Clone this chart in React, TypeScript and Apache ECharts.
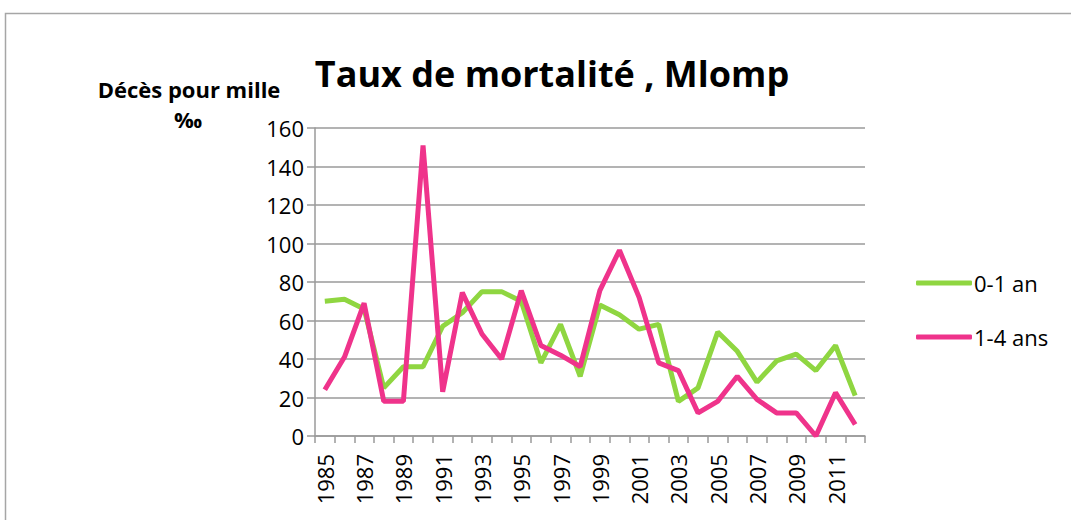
import React, { useEffect, useRef } from "react";
import * as echarts from "echarts";

const years: string[] = [
  "1985", "1986", "1987", "1988", "1989", "1990", "1991", "1992", "1993", "1994",
  "1995", "1996", "1997", "1998", "1999", "2000", "2001", "2002", "2003", "2004",
  "2005", "2006", "2007", "2008", "2009", "2010", "2011", "2012",
];
const infant: number[] = [
  70, 71, 66, 25, 36, 36, 57, 64, 75, 75,
  70, 38, 58, 31, 68, 63, 55.5, 58, 18, 25,
  54, 44, 28, 39, 42.5, 34, 47, 21,
];
const child: number[] = [
  24, 41, 69, 18, 18, 151, 23, 74.5, 53, 40,
  75.5, 47, 42, 36, 75.5, 96.5, 72, 38, 34, 12,
  18, 31, 19, 12, 12, 0, 22.5, 6,
];
const seriesNames: string[] = ["0-1 an", "1-4 ans"];
const titleText = "Taux de mortalité , Mlomp";
const yNameLine1 = "Décès pour mille";
const yNameLine2 = "‰";

const FONT = "'Open Sans', sans-serif";

export default function App() {
  const ref = useRef<HTMLDivElement>(null);
  useEffect(() => {
    if (!ref.current) return;
    const chart = echarts.init(ref.current, undefined, { renderer: "svg" });
    chart.setOption({
      animation: false,
      backgroundColor: "#ffffff",
      textStyle: { fontFamily: FONT },
      title: {
        text: titleText,
        left: 547,
        top: 50,
        textAlign: "center",
        textStyle: { fontSize: 36, fontWeight: "bold", color: "#000", fontFamily: FONT },
      },
      graphic: [
        {
          type: "rect",
          shape: { x: 5.5, y: 13.5, width: 1200, height: 700 },
          style: { fill: "none", stroke: "#a6a6a6", lineWidth: 1.5 },
          silent: true,
        },
        {
          type: "text",
          x: 189,
          y: 89,
          style: {
            text: yNameLine1,
            fontSize: 22,
            fontWeight: "bold",
            fontFamily: FONT,
            fill: "#000",
            textAlign: "center",
            textVerticalAlign: "middle",
          },
        },
        {
          type: "text",
          x: 188,
          y: 119,
          style: {
            text: yNameLine2,
            fontSize: 22,
            fontWeight: "bold",
            fontFamily: FONT,
            fill: "#000",
            textAlign: "center",
            textVerticalAlign: "middle",
          },
        },
      ],
      legend: {
        orient: "vertical",
        left: 911,
        top: 267,
        itemGap: 32,
        itemWidth: 56,
        itemHeight: 5,
        icon: "roundRect",
        data: seriesNames,
        textStyle: { fontSize: 22, color: "#000", fontFamily: FONT, padding: [0, 0, 0, -3] },
      },
      grid: { left: 315, right: 206, top: 128, bottom: 84, containLabel: false },
      xAxis: {
        type: "category",
        data: years,
        boundaryGap: true,
        axisLine: { lineStyle: { color: "#9a9a9a", width: 1.5 } },
        axisTick: { show: true, length: 7, interval: 0, lineStyle: { color: "#9a9a9a", width: 1.5 } },
        axisLabel: {
          interval: 1,
          rotate: 90,
          fontSize: 22,
          color: "#000",
          fontFamily: FONT,
          margin: 18,
        },
      },
      yAxis: {
        type: "value",
        min: 0,
        max: 160,
        interval: 20,
        axisLine: { show: true, lineStyle: { color: "#9a9a9a", width: 1.5 } },
        axisTick: { show: true, length: 8, lineStyle: { color: "#9a9a9a", width: 1.5 } },
        splitLine: { show: true, lineStyle: { color: "#9a9a9a", width: 1.5 } },
        axisLabel: { fontSize: 22, color: "#000", fontFamily: FONT, margin: 11 },
      },
      series: [
        {
          name: seriesNames[0],
          type: "line",
          data: infant,
          symbol: "none",
          lineStyle: { color: "#8fd641", width: 5 },
          itemStyle: { color: "#8fd641" },
        },
        {
          name: seriesNames[1],
          type: "line",
          data: child,
          symbol: "none",
          lineStyle: { color: "#ef338b", width: 5 },
          itemStyle: { color: "#ef338b" },
        },
      ],
    });
    return () => chart.dispose();
  }, []);
  return (
    <div
      ref={ref}
      style={{ position: "absolute", left: 0, top: 0, width: 1071, height: 520 }}
    />
  );
}
